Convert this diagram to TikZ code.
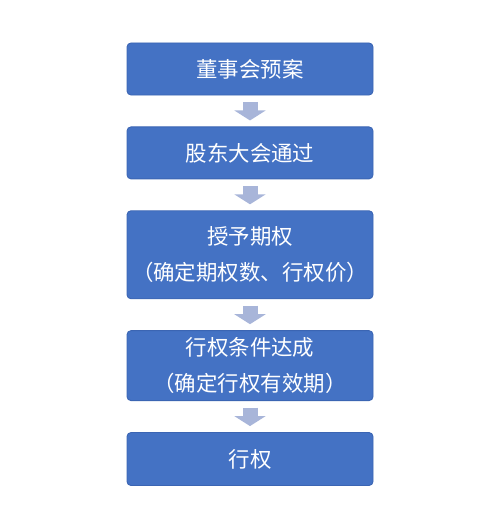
\documentclass[tikz,border=0pt]{standalone}
\usepackage{fontspec}
\newfontfamily\cjk{Noto Sans CJK SC}
\usetikzlibrary{arrows.meta,positioning}
\definecolor{stepblue}{HTML}{4472C4}
\definecolor{stepedge}{HTML}{3B65B3}
\definecolor{flowgray}{HTML}{A8B5D9}

\begin{document}
\begin{tikzpicture}[
        node distance=0.62cm,
        box/.style={
            rectangle,
            rounded corners=0.08cm,
            draw=stepedge,
            fill=stepblue,
            text=white,
            line width=0.5pt,
            inner xsep=0.06cm,
            text width=4.8cm,
            align=center,
            font=\cjk\fontsize{12.2}{20.5}\selectfont
        },
        flow/.style={
            -{Triangle[width=0.62cm,length=0.2cm]},
            draw=flowgray,
            line width=0.3cm,
            shorten <=0.13cm,
            shorten >=0.12cm
        }
    ]
    \useasboundingbox (0,0) rectangle (10,-10.54);
    % Steps
    \node[box, minimum height=1.04cm] (board) at (5,-1.38) {董事会预案};
    \node[box, minimum height=1.04cm, below=of board] (meeting) {股东大会通过};
    \node[box, minimum height=1.76cm, below=of meeting] (grant) {
        授予期权\\（确定期权数、行权价）};
    \node[box, minimum height=1.40cm, below=of grant] (vesting) {
        行权条件达成\\（确定行权有效期）};
    \node[box, minimum height=1.06cm, below=of vesting] (exercise) {行权};
    % Arrows between steps
    \draw[flow] (board) -- (meeting);
    \draw[flow] (meeting) -- (grant);
    \draw[flow] (grant) -- (vesting);
    \draw[flow] (vesting) -- (exercise);
\end{tikzpicture}
\end{document}
